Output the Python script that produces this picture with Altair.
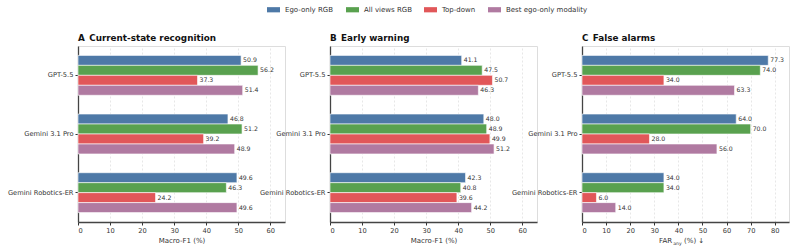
import altair as alt
import pandas as pd

models = ["GPT-5.5", "Gemini 3.1 Pro", "Gemini Robotics-ER"]
series = ["Ego-only RGB", "All views RGB", "Top-down", "Best ego-only modality"]
colors = ["#4e79a7", "#59a14f", "#e15759", "#b07aa1"]

# values per model, in series order
a_vals = {"GPT-5.5": [50.9, 56.2, 37.3, 51.4],
          "Gemini 3.1 Pro": [46.8, 51.2, 39.2, 48.9],
          "Gemini Robotics-ER": [49.6, 46.3, 24.2, 49.6]}
b_vals = {"GPT-5.5": [41.1, 47.5, 50.7, 46.3],
          "Gemini 3.1 Pro": [48.0, 48.9, 49.9, 51.2],
          "Gemini Robotics-ER": [42.3, 40.8, 39.6, 44.2]}
c_vals = {"GPT-5.5": [77.3, 74.0, 34.0, 63.3],
          "Gemini 3.1 Pro": [64.0, 70.0, 28.0, 56.0],
          "Gemini Robotics-ER": [34.0, 34.0, 6.0, 14.0]}

FONT = "DejaVu Sans"
W, H = 207, 176


def frame(vals):
    rows = []
    for m in models:
        for s, v in zip(series, vals[m]):
            rows.append({"model": m, "series": s, "value": v})
    return pd.DataFrame(rows)


def panel(vals, title, xtitle, xmax, ticks):
    df = frame(vals)
    base = alt.Chart(df).encode(
        y=alt.Y("model:N", sort=models,
                scale=alt.Scale(paddingInner=0.32, paddingOuter=0.16),
                axis=alt.Axis(title=None, labelFontSize=6.7, labelFont=FONT,
                              labelColor="#333333", tickSize=3, tickColor="#333333",
                              domainColor="#444444", domainWidth=1.3, labelPadding=2,
                              grid=False)),
        yOffset=alt.YOffset("series:N", sort=series,
                            scale=alt.Scale(paddingInner=0.0, paddingOuter=0.0)),
        x=alt.X("value:Q",
                scale=alt.Scale(domain=[0, xmax], nice=False, zero=True),
                axis=alt.Axis(title=xtitle, values=ticks, format="d",
                              labelFontSize=6.7, labelFont=FONT, labelColor="#333333",
                              titleFontSize=7, titleFont=FONT, titleColor="#333333",
                              titleFontWeight="normal", titlePadding=3,
                              tickSize=3, tickColor="#333333",
                              domainColor="#444444", domainWidth=1.3,
                              grid=True, gridColor="#dddddd", gridDash=[2, 2],
                              gridWidth=0.7, labelPadding=2)),
    )
    bars = base.mark_bar(stroke="white", strokeWidth=0.6).encode(
        color=alt.Color("series:N", sort=series,
                        scale=alt.Scale(domain=series, range=colors),
                        legend=alt.Legend(
                            title=None, orient="none", direction="horizontal",
                            legendX=189, legendY=-43,
                            symbolType="M-1,-0.4L1,-0.4L1,0.4L-1,0.4Z",
                            symbolSize=169, symbolStrokeWidth=0,
                            labelFontSize=7, labelFont=FONT, labelColor="#333333",
                            labelOffset=5, columnPadding=12))
    )
    text = base.mark_text(align="left", baseline="middle", dx=2,
                          fontSize=6.2, font=FONT, color="#333333").encode(
        text=alt.Text("value:Q", format=".1f"))
    return alt.layer(bars, text).properties(
        width=W, height=H,
        title=alt.TitleParams(title, anchor="start", frame="group", fontSize=8.8,
                              font=FONT, fontWeight="bold", color="#111111",
                              offset=3))


pa = panel(a_vals, "A\u2002Current-state recognition", "Macro-F1 (%)", 64.6,
           [0, 10, 20, 30, 40, 50, 60])
pb = panel(b_vals, "B\u2002Early warning", "Macro-F1 (%)", 64.6,
           [0, 10, 20, 30, 40, 50, 60])
pc = panel(c_vals, "C\u2002False alarms", " ", 85.9,
           [0, 10, 20, 30, 40, 50, 60, 70, 80])

# subscripted axis title for panel C
cx = 660 - 583
far = alt.Chart(pd.DataFrame({"t": ["FAR"]})).mark_text(
    align="left", baseline="alphabetic", fontSize=7, font=FONT, color="#333333"
).encode(text="t:N", x=alt.value(cx), y=alt.value(H + 21))
sub = alt.Chart(pd.DataFrame({"t": ["any"]})).mark_text(
    align="left", baseline="alphabetic", fontSize=4.6, font=FONT, color="#333333"
).encode(text="t:N", x=alt.value(cx + 14.3), y=alt.value(H + 22.5))
rest = alt.Chart(pd.DataFrame({"t": ["(%) \u2193"]})).mark_text(
    align="left", baseline="alphabetic", fontSize=7, font=FONT, color="#333333"
).encode(text="t:N", x=alt.value(cx + 25), y=alt.value(H + 21))
pc = alt.layer(pc, far, sub, rest).properties(width=W, height=H)

chart = alt.hconcat(pa, pb, pc, spacing=45, bounds="flush").resolve_scale(
    color="shared"
).properties(
    padding={"left": 6, "top": 3, "right": 5, "bottom": 3}
).configure_view(stroke=None).configure(background="white")

chart.save("out.html", embed_options={"renderer": "svg", "actions": False})
